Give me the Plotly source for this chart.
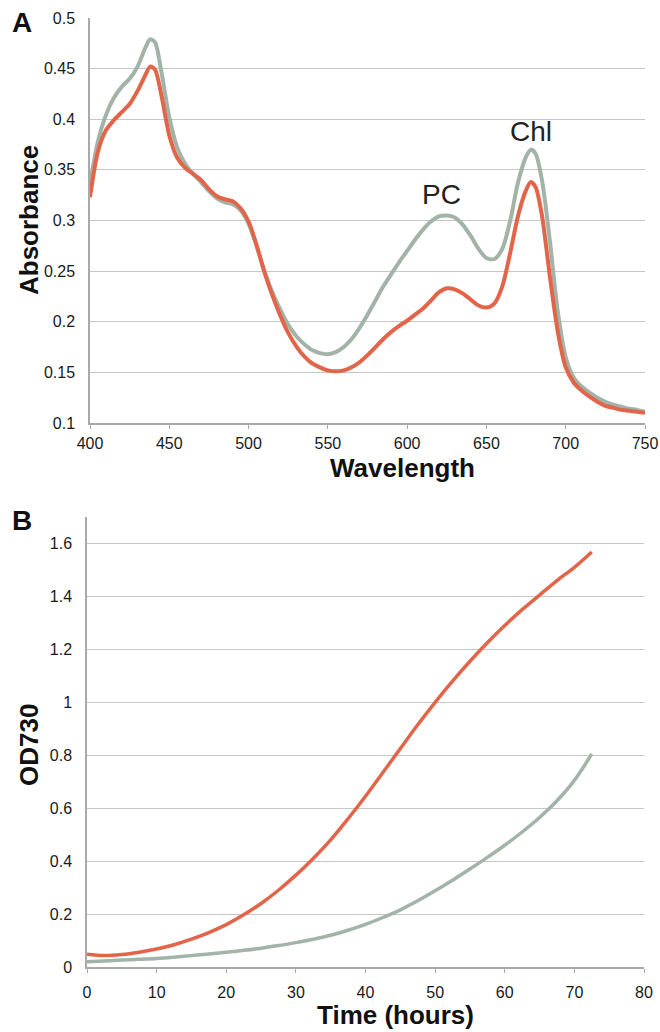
import plotly.graph_objects as go

# ---------------- Panel A data: absorbance spectra ----------------
wavelength = [400, 405, 410, 415, 420, 425, 430, 435, 438, 441, 445, 450, 455, 460, 465, 470,
              475, 480, 485, 490, 495, 500, 505, 510, 515, 520, 525, 530, 535, 540, 545, 550,
              555, 560, 565, 570, 575, 580, 585, 590, 595, 600, 605, 610, 615, 620, 625, 630,
              635, 640, 645, 650, 655, 660, 665, 670, 675, 678, 681, 685, 690, 695, 700, 705,
              710, 715, 720, 725, 730, 735, 740, 745, 750]
abs_grey = [0.336, 0.378, 0.404, 0.421, 0.432, 0.440, 0.452, 0.471, 0.479, 0.476, 0.447, 0.402, 0.372, 0.356, 0.346, 0.338,
            0.329, 0.322, 0.318, 0.316, 0.310, 0.297, 0.275, 0.25, 0.229, 0.212, 0.197, 0.186, 0.178, 0.172, 0.169, 0.168,
            0.170, 0.175, 0.183, 0.194, 0.207, 0.221, 0.235, 0.247, 0.259, 0.270, 0.281, 0.291, 0.299, 0.304, 0.305, 0.303,
            0.296, 0.285, 0.272, 0.263, 0.262, 0.272, 0.300, 0.338, 0.363, 0.370, 0.366, 0.340, 0.280, 0.210, 0.165, 0.145,
            0.136, 0.130, 0.125, 0.121, 0.118, 0.116, 0.114, 0.113, 0.111]
abs_orange = [0.323, 0.368, 0.389, 0.399, 0.407, 0.415, 0.428, 0.444, 0.452, 0.449, 0.424, 0.384, 0.362, 0.352, 0.346, 0.340,
              0.331, 0.324, 0.321, 0.319, 0.312, 0.299, 0.276, 0.249, 0.226, 0.206, 0.189, 0.176, 0.166, 0.159, 0.155, 0.152,
              0.151, 0.152, 0.155, 0.160, 0.167, 0.175, 0.183, 0.190, 0.196, 0.201, 0.207, 0.213, 0.221, 0.229, 0.233, 0.232,
              0.228, 0.222, 0.216, 0.214, 0.218, 0.235, 0.268, 0.305, 0.330, 0.338, 0.333, 0.305, 0.245, 0.190, 0.155, 0.140,
              0.132, 0.126, 0.121, 0.117, 0.115, 0.113, 0.112, 0.111, 0.110]

# ---------------- Panel B data: growth curves ----------------
time_h = [0, 2.5, 5, 7.5, 10, 12.5, 15, 17.5, 20, 22.5, 25, 27.5, 30, 32.5, 35, 37.5, 40, 42.5, 45,
          47.5, 50, 52.5, 55, 57.5, 60, 62.5, 65, 67.5, 70, 72.5]
od_orange = [0.048, 0.043, 0.047, 0.056, 0.068, 0.084, 0.105, 0.130, 0.160, 0.197, 0.240, 0.290, 0.347, 0.410, 0.480,
             0.560, 0.645, 0.735, 0.825, 0.915, 1.000, 1.080, 1.155, 1.225, 1.290, 1.350, 1.405, 1.460, 1.510, 1.568]
od_grey = [0.020, 0.023, 0.026, 0.029, 0.032, 0.037, 0.043, 0.049, 0.056, 0.063, 0.071, 0.081, 0.092, 0.105, 0.120,
           0.139, 0.161, 0.187, 0.216, 0.250, 0.288, 0.328, 0.370, 0.414, 0.460, 0.510, 0.565, 0.628, 0.705, 0.805]

GREY = "#a2b3a7"
ORANGE = "#e2654a"
GRID = "#c6c6c6"
AXIS = "#a9a9a9"
FONT = "Liberation Sans, Arial, sans-serif"
W, H = 660, 1032


def px(x):
    return x / W


def py(y):
    return 1 - y / H


fig = go.Figure()

fig.add_trace(go.Scatter(x=wavelength, y=abs_grey, mode="lines", line=dict(color=GREY, width=4, shape="spline", smoothing=0.8),
                         xaxis="x", yaxis="y", showlegend=False))
fig.add_trace(go.Scatter(x=wavelength, y=abs_orange, mode="lines", line=dict(color=ORANGE, width=4, shape="spline", smoothing=0.8),
                         xaxis="x", yaxis="y", showlegend=False))
fig.add_trace(go.Scatter(x=time_h, y=od_grey, mode="lines", line=dict(color=GREY, width=3.5, shape="spline", smoothing=1.0),
                         xaxis="x2", yaxis="y2", showlegend=False))
fig.add_trace(go.Scatter(x=time_h, y=od_orange, mode="lines", line=dict(color=ORANGE, width=3.5, shape="spline", smoothing=1.0),
                         xaxis="x2", yaxis="y2", showlegend=False))

tickfont = dict(family=FONT, size=16, color="#1a1a1a")

xcommon = dict(showgrid=False, showline=True, linecolor=AXIS, linewidth=1.5, ticks="outside", ticklen=4,
               tickcolor=AXIS, tickwidth=1, tickfont=tickfont, automargin=False, zeroline=False,
               ticklabeloverflow="allow", fixedrange=True)
ycommon = dict(showgrid=True, gridcolor=GRID, gridwidth=1.2, showline=True, linecolor=AXIS, linewidth=1.5,
               ticks="", tickfont=tickfont, automargin=False, zeroline=False, ticklabelstandoff=10,
               ticklabeloverflow="allow", fixedrange=True)

fig.update_layout(
    width=W, height=H,
    margin=dict(l=0, r=0, t=0, b=0),
    paper_bgcolor="white", plot_bgcolor="white",
    xaxis=dict(xcommon, domain=[px(90), px(645)], range=[400, 750], dtick=50, tick0=400, anchor="y",
               ticklabelstandoff=1),
    yaxis=dict(ycommon, domain=[py(423), py(18)], range=[0.1, 0.5], dtick=0.05, tick0=0.1, anchor="x"),
    xaxis2=dict(xcommon, domain=[px(87), px(644)], range=[0, 80], dtick=10, tick0=0, anchor="y2",
                ticklabelstandoff=6),
    yaxis2=dict(ycommon, domain=[py(967), py(517)], range=[0, 1.7], dtick=0.2, tick0=0, anchor="x2"),
)

title_font = dict(family=FONT, size=26, color="#111111")
ann = [
    dict(text="<b>A</b>", x=px(22), y=py(22), font=dict(family=FONT, size=28, color="#111111")),
    dict(text="<b>B</b>", x=px(22), y=py(520), font=dict(family=FONT, size=28, color="#111111")),
    dict(text="<b>Absorbance</b>", x=px(29), y=py(220), textangle=-90, font=title_font),
    dict(text="<b>Wavelength</b>", x=px(402), y=py(468), font=title_font),
    dict(text="<b>OD730</b>", x=px(29), y=py(745), textangle=-90, font=title_font),
    dict(text="<b>Time (hours)</b>", x=px(395), y=py(1015), font=title_font),
    dict(text="PC", x=px(441), y=py(194), font=dict(family=FONT, size=28, color="#222222")),
    dict(text="Chl", x=px(531), y=py(131), font=dict(family=FONT, size=28, color="#222222")),
]
for a in ann:
    a.update(xref="paper", yref="paper", showarrow=False, xanchor="center", yanchor="middle")
fig.update_layout(annotations=ann)

fig.write_html(
    "out.html",
    config={"displayModeBar": False},
    post_script="document.body.style.margin='0';document.body.style.overflow='hidden';",
)
